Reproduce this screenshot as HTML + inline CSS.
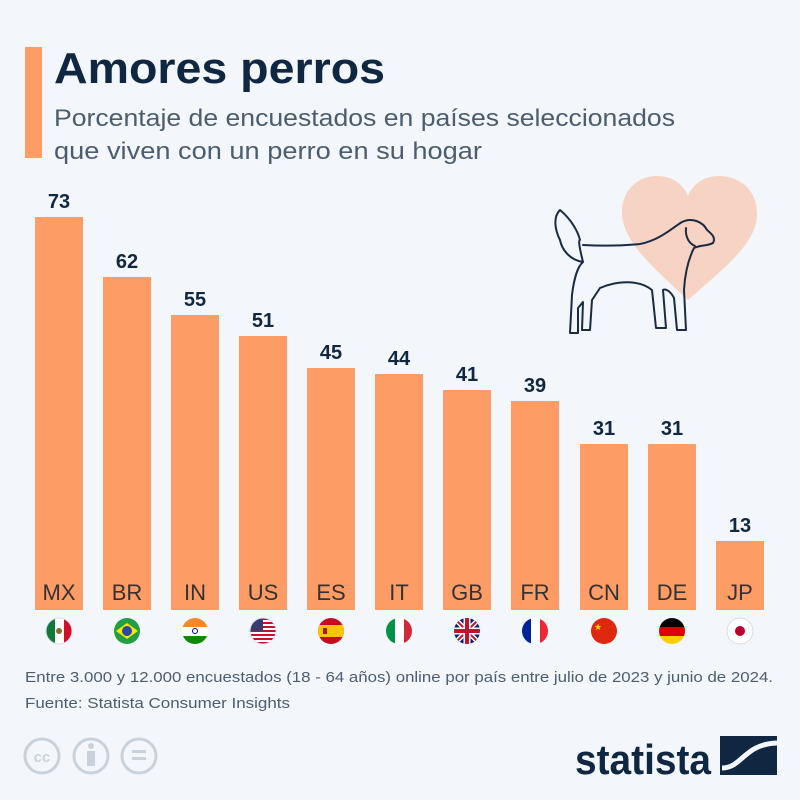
<!DOCTYPE html>
<html><head><meta charset="utf-8"><style>
html,body{margin:0;padding:0;background:#f3f6fa;}
svg{display:block;font-family:"Liberation Sans",sans-serif;}
</style></head><body>
<svg width="800" height="800" viewBox="0 0 800 800" xmlns="http://www.w3.org/2000/svg">
<rect width="800" height="800" fill="#f3f6fa"/>
<rect x="25" y="47" width="17" height="111" fill="#fd9c65"/>
<text x="54" y="83" font-size="44" font-weight="bold" fill="#0f2741" textLength="331" lengthAdjust="spacingAndGlyphs">Amores perros</text>
<text x="54" y="126" font-size="24" fill="#4d5d70" textLength="621" lengthAdjust="spacingAndGlyphs">Porcentaje de encuestados en países seleccionados</text>
<text x="54" y="159" font-size="24" fill="#4d5d70" textLength="428" lengthAdjust="spacingAndGlyphs">que viven con un perro en su hogar</text>
<!-- heart -->
<path d="M688,300 C650,265 622,240 622,212 C622,190 638,176 657,176 C672,176 683,184 688,196 C693,184 704,176 719,176 C740,176 757,190 757,214 C757,242 728,265 688,300 Z" fill="#f6d3c2"/>
<!-- dog -->
<g fill="none" stroke="#1a2b42" stroke-width="2" stroke-linecap="round" stroke-linejoin="round">
<path d="M560,210 C552,218 556,232 560,240 C562,250 570,260 583,262 C580,250 578,240 580,240 C578,232 572,220 560,210 Z"/>
<path d="M583,245 C600,246 620,246 640,244 C660,240 672,228 682,222 C692,217 703,222 707,230 C712,234 716,238 713,243 C708,246 700,245 694,248 C689,258 685,272 684,290 L686,330 L677,330 L674,298 C671,292 666,288 663,290 L666,328 L656,328 L652,290 C640,280 618,280 600,288 L592,300 L590,330 L582,330 L583,302 L578,308 L578,333 L570,333 L572,295 C574,278 578,266 583,262"/>
<path d="M686,228 C685,238 690,244 695,246"/>
</g>
<g fill="#fd9c65">
<rect x="35" y="217" width="48" height="393"/>
<rect x="103" y="277" width="48" height="333"/>
<rect x="171" y="315" width="48" height="295"/>
<rect x="239" y="336" width="48" height="274"/>
<rect x="307" y="368" width="48" height="242"/>
<rect x="375" y="374" width="48" height="236"/>
<rect x="443" y="390" width="48" height="220"/>
<rect x="511" y="401" width="48" height="209"/>
<rect x="580" y="444" width="48" height="166"/>
<rect x="648" y="444" width="48" height="166"/>
<rect x="716" y="541" width="48" height="69"/>
</g>
<g font-size="20" font-weight="bold" fill="#0f2741" text-anchor="middle">
<text x="59" y="208">73</text><text x="127" y="268">62</text><text x="195" y="306">55</text>
<text x="263" y="327">51</text><text x="331" y="359">45</text><text x="399" y="365">44</text>
<text x="467" y="381">41</text><text x="535" y="392">39</text><text x="604" y="435">31</text>
<text x="672" y="435">31</text><text x="740" y="532">13</text>
</g>
<g font-size="22" fill="#333" text-anchor="middle">
<text x="59" y="600">MX</text><text x="127" y="600">BR</text><text x="195" y="600">IN</text>
<text x="263" y="600">US</text><text x="331" y="600">ES</text><text x="399" y="600">IT</text>
<text x="467" y="600">GB</text><text x="535" y="600">FR</text><text x="604" y="600">CN</text>
<text x="672" y="600">DE</text><text x="740" y="600">JP</text>
</g>
<defs>
<clipPath id="c"><circle r="13"/></clipPath>
</defs>
<g transform="translate(59,631)" clip-path="url(#c)"><rect x="-13" y="-13" width="9" height="26" fill="#0f7a3c"/><rect x="-4" y="-13" width="9" height="26" fill="#fff"/><rect x="5" y="-13" width="9" height="26" fill="#ce1126"/><circle r="3" fill="#8a6a2a"/></g>
<g transform="translate(127,631)" clip-path="url(#c)"><rect x="-13" y="-13" width="26" height="26" fill="#229e45"/><path d="M-11,0 L0,-8 L11,0 L0,8Z" fill="#f8e509"/><circle r="5" fill="#2b49a3"/></g>
<g transform="translate(195,631)" clip-path="url(#c)"><rect x="-13" y="-13" width="26" height="9" fill="#f7882a"/><rect x="-13" y="-4" width="26" height="9" fill="#fff"/><rect x="-13" y="5" width="26" height="9" fill="#128807"/><circle r="2.5" fill="none" stroke="#000088" stroke-width="1"/></g>
<g transform="translate(263,631)" clip-path="url(#c)"><rect x="-13" y="-13" width="26" height="26" fill="#fff"/><g fill="#c8102e"><rect x="-13" y="-13" width="26" height="2"/><rect x="-13" y="-9" width="26" height="2"/><rect x="-13" y="-5" width="26" height="2"/><rect x="-13" y="-1" width="26" height="2"/><rect x="-13" y="3" width="26" height="2"/><rect x="-13" y="7" width="26" height="2"/><rect x="-13" y="11" width="26" height="2"/></g><rect x="-13" y="-13" width="13" height="13" fill="#3c3b6e"/></g>
<g transform="translate(331,631)" clip-path="url(#c)"><rect x="-13" y="-13" width="26" height="26" fill="#c60b1e"/><rect x="-13" y="-6" width="26" height="12" fill="#ffc400"/><rect x="-8" y="-3" width="4" height="6" fill="#ad1519"/></g>
<g transform="translate(399,631)" clip-path="url(#c)"><rect x="-13" y="-13" width="9" height="26" fill="#009246"/><rect x="-4" y="-13" width="9" height="26" fill="#fff"/><rect x="5" y="-13" width="9" height="26" fill="#ce2b37"/></g>
<g transform="translate(467,631)" clip-path="url(#c)"><rect x="-13" y="-13" width="26" height="26" fill="#012169"/><path d="M-13,-13 L13,13 M13,-13 L-13,13" stroke="#fff" stroke-width="5"/><path d="M-13,-13 L13,13 M13,-13 L-13,13" stroke="#c8102e" stroke-width="2"/><path d="M0,-13 V13 M-13,0 H13" stroke="#fff" stroke-width="7"/><path d="M0,-13 V13 M-13,0 H13" stroke="#c8102e" stroke-width="4"/></g>
<g transform="translate(535,631)" clip-path="url(#c)"><rect x="-13" y="-13" width="9" height="26" fill="#002395"/><rect x="-4" y="-13" width="9" height="26" fill="#fff"/><rect x="5" y="-13" width="9" height="26" fill="#ed2939"/></g>
<g transform="translate(604,631)" clip-path="url(#c)"><rect x="-13" y="-13" width="26" height="26" fill="#de2910"/><text x="-6" y="-1" font-size="9" fill="#ffde00" text-anchor="middle">★</text></g>
<g transform="translate(672,631)" clip-path="url(#c)"><rect x="-13" y="-13" width="26" height="9" fill="#000"/><rect x="-13" y="-4" width="26" height="9" fill="#dd0000"/><rect x="-13" y="5" width="26" height="9" fill="#ffce00"/></g>
<g transform="translate(740,631)" clip-path="url(#c)"><rect x="-13" y="-13" width="26" height="26" fill="#fff"/><circle r="5" fill="#bc002d"/></g>
<g fill="none" stroke="#d8dde3" stroke-width="1"><circle cx="59" cy="631" r="13"/><circle cx="740" cy="631" r="13"/><circle cx="263" cy="631" r="13"/></g>
<text x="25" y="682" font-size="15" fill="#4d5d70" textLength="748" lengthAdjust="spacingAndGlyphs">Entre 3.000 y 12.000 encuestados (18 - 64 años) online por país entre julio de 2023 y junio de 2024.</text>
<text x="25" y="708" font-size="15" fill="#4d5d70" textLength="265" lengthAdjust="spacingAndGlyphs">Fuente: Statista Consumer Insights</text>
<g fill="none" stroke="#c9d2db" stroke-width="3">
<circle cx="42" cy="756" r="17"/><circle cx="91" cy="756" r="17"/><circle cx="139" cy="756" r="17"/>
</g>
<text x="42" y="762" font-size="15" font-weight="bold" fill="#c9d2db" text-anchor="middle">cc</text>
<circle cx="91" cy="746" r="3" fill="#c9d2db"/><rect x="87" y="751" width="8" height="15" fill="#c9d2db"/>
<rect x="132" y="750" width="14" height="3" fill="#c9d2db"/><rect x="132" y="757" width="14" height="3" fill="#c9d2db"/>
<text x="711" y="774" font-size="42" font-weight="bold" fill="#0f2741" text-anchor="end" textLength="136" lengthAdjust="spacingAndGlyphs">statista</text>
<rect x="720" y="736" width="57" height="39" fill="#0f2741"/>
<path d="M722,768 C742,768 744,744 777,743" stroke="#f3f6fa" stroke-width="5" fill="none"/>
</svg>
</body></html>
